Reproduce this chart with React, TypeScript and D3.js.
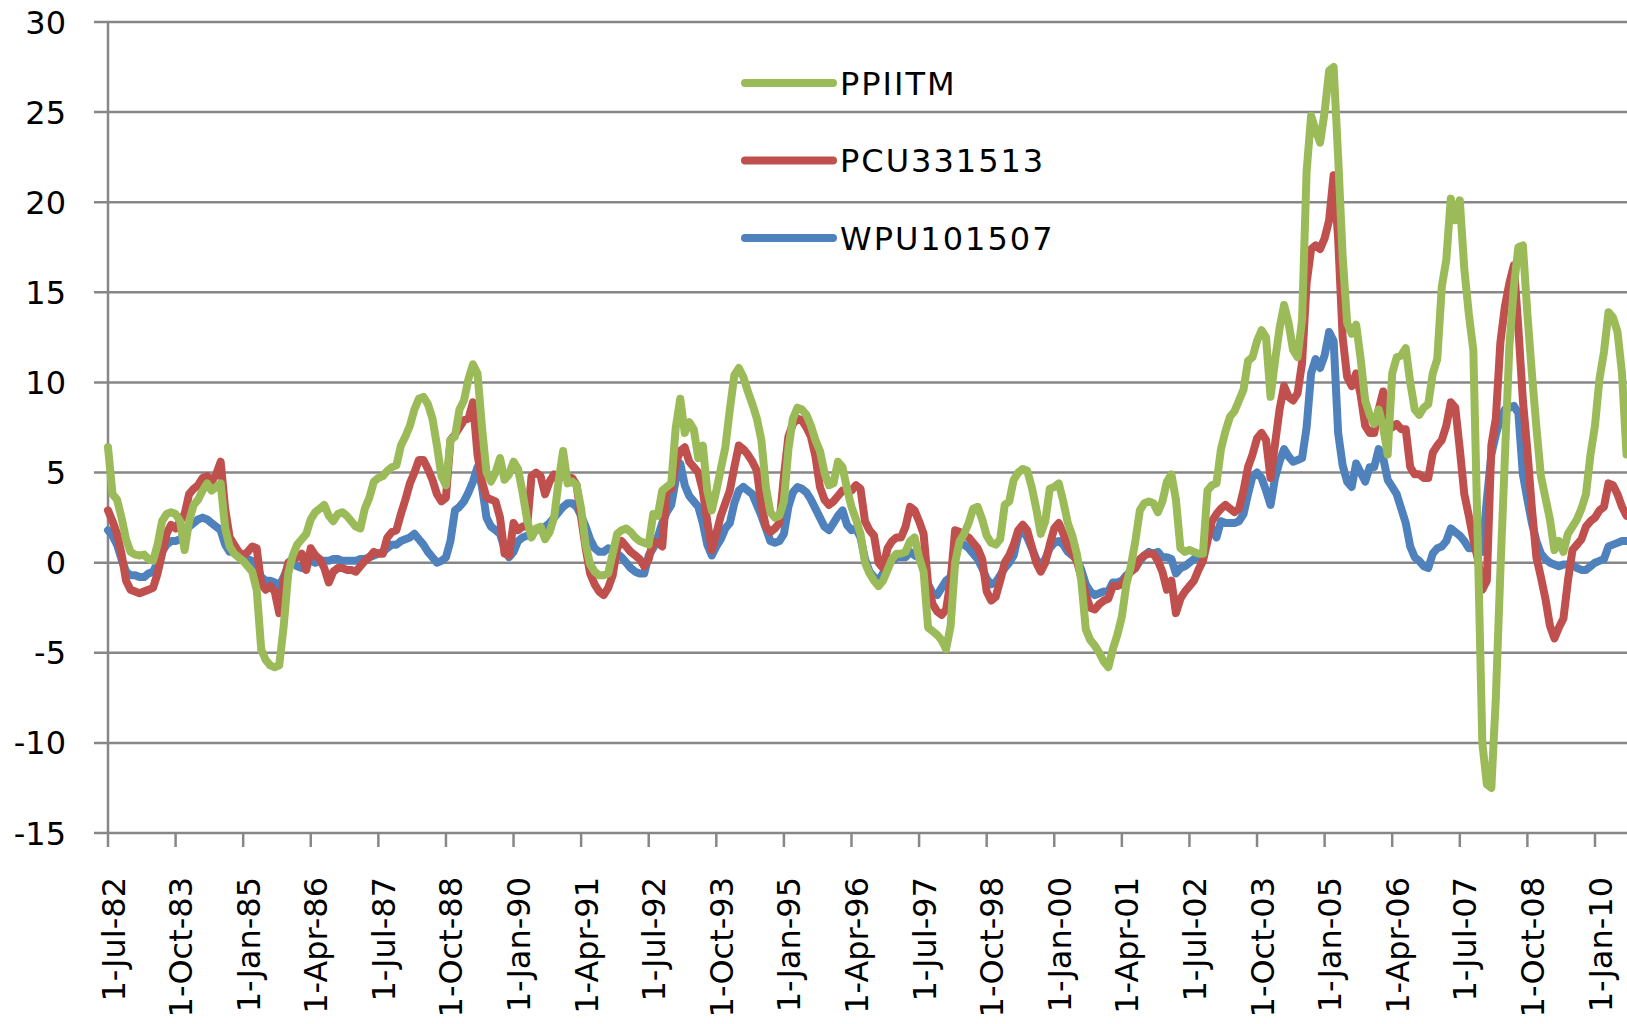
import React, { useEffect, useRef } from "react";
import * as d3 from "d3";

// monthly values starting 1-Jul-82, one row = 15 months (one tick interval)
const ppiitm = [
  6.4, 3.8, 3.5, 2.5, 1.3, 0.6, 0.45, 0.4, 0.45, 0.2, 0.1, 1.0, 2.3, 2.7, 2.8,
  2.7, 2.3, 0.7, 2.3, 3.2, 3.5, 4.0, 4.4, 4.0, 4.2, 4.4, 1.9, 0.9, 0.5, 0.3,
  0.1, -0.2, -0.5, -1.5, -4.8, -5.4, -5.7, -5.8, -5.7, -3.5, -0.6, 0.4, 1.0, 1.3, 1.6,
  2.4, 2.8, 3.0, 3.2, 2.6, 2.3, 2.7, 2.8, 2.6, 2.3, 2.0, 1.9, 3.0, 3.6, 4.5,
  4.7, 4.8, 5.1, 5.3, 5.4, 6.5, 7.0, 7.6, 8.5, 9.1, 9.2, 8.8, 8.0, 6.5, 4.8,
  4.3, 6.8, 7.0, 8.5, 9.0, 10.2, 11.0, 10.5, 7.5, 5.0, 4.5, 5.0, 5.8, 4.6, 4.9,
  5.6, 5.2, 3.9, 2.4, 1.4, 1.9, 2.0, 1.3, 1.7, 2.5, 4.5, 6.2, 4.4, 4.5, 4.3,
  3.0, 1.0, -0.1, -0.5, -0.7, -0.7, -0.6, 0.5, 1.6, 1.8, 1.9, 1.7, 1.4, 1.2, 1.1,
  1.0, 2.7, 2.6, 4.0, 4.2, 4.4, 7.5, 9.1, 7.2, 7.8, 7.4, 5.8, 6.5, 4.0, 2.9,
  4.0, 5.2, 6.4, 8.5, 10.4, 10.8, 10.3, 9.5, 8.8, 8.0, 6.8, 4.2, 2.8, 2.5, 2.6,
  3.4, 6.3, 8.0, 8.6, 8.5, 8.2, 7.6, 6.8, 6.2, 5.0, 4.3, 4.4, 5.6, 5.3, 4.1,
  3.1, 2.4, 1.6, 0.0, -0.6, -1.0, -1.3, -1.0, -0.4, 0.2, 0.5, 0.5, 0.6, 1.2, 1.4,
  0.3, -0.5, -3.6, -3.8, -4.0, -4.3, -4.8, -3.5, 0.0, 1.2, 1.6, 2.2, 3.0, 3.1, 2.4,
  1.5, 1.1, 1.0, 1.3, 3.2, 3.4, 4.6, 5.0, 5.2, 5.1, 4.2, 3.0, 1.6, 2.3, 4.1,
  4.2, 4.4, 3.4, 2.2, 1.5, 0.5, -1.0, -3.7, -4.3, -4.6, -5.0, -5.5, -5.8, -4.8, -4.0,
  -3.0, -1.2, -0.2, 1.2, 2.9, 3.3, 3.4, 3.3, 2.8, 3.4, 4.5, 4.9, 3.5, 0.8, 0.6,
  0.7, 0.6, 0.5, 0.5, 4.0, 4.3, 4.4, 6.3, 7.3, 8.1, 8.4, 9.0, 9.6, 11.2, 11.4,
  12.3, 12.9, 12.5, 9.2, 11.2, 13.0, 14.3, 13.3, 11.8, 11.4, 13.5, 21.7, 24.8, 24.0, 23.3,
  25.0, 27.3, 27.5, 22.5, 17.0, 13.3, 12.7, 13.2, 11.3, 9.0, 8.2, 7.7, 8.5, 7.5, 6.0,
  10.5, 11.4, 11.5, 11.9, 10.0, 8.5, 8.2, 8.6, 8.8, 10.5, 11.3, 15.3, 16.8, 20.2, 19.0,
  20.1, 16.3, 13.8, 11.8, 1.0, -10.0, -12.3, -12.5, -7.5, -0.5, 5.8, 12.0, 15.3, 17.5, 17.6,
  13.8, 10.5, 7.5, 4.8, 3.6, 2.4, 0.7, 1.2, 0.6, 1.6, 2.0, 2.4, 3.0, 3.8, 6.0,
  7.6, 10.2, 11.7, 13.9, 13.6, 12.8, 10.5, 6.0,
];

const pcu331513 = [
  2.9, 2.3, 1.6, 0.5, -1.0, -1.5, -1.6, -1.7, -1.6, -1.5, -1.4, -0.6, 0.5, 1.6, 2.1,
  1.9, 2.3, 2.7, 3.8, 4.1, 4.3, 4.7, 4.8, 4.5, 4.9, 5.6, 3.0, 1.4, 1.0, 0.6,
  0.4, 0.6, 0.9, 0.8, -1.2, -1.5, -1.3, -1.6, -2.8, -1.0, 0.0, 0.2, 0.3, 0.5, -0.4,
  0.8, 0.4, 0.2, -0.3, -1.1, -0.5, -0.3, -0.3, -0.4, -0.4, -0.5, -0.2, 0.1, 0.3, 0.6,
  0.5, 0.5, 1.4, 1.7, 1.8, 2.7, 3.5, 4.4, 5.0, 5.7, 5.7, 5.2, 4.6, 3.8, 3.4,
  3.6, 6.8, 7.1, 7.5, 7.9, 8.0, 8.9, 6.0, 4.5, 3.6, 3.5, 3.4, 2.5, 0.5, 0.4,
  2.2, 1.8, 2.0, 2.0, 4.8, 5.0, 4.8, 3.8, 4.5, 4.9, 4.6, 4.9, 4.7, 4.7, 4.3,
  2.5, 0.8, -0.6, -1.2, -1.6, -1.8, -1.4, -0.7, 0.8, 1.2, 0.9, 0.6, 0.4, 0.2, -0.2,
  0.2, 1.2, 1.1, 0.9, 4.0, 4.1, 5.5, 6.2, 6.4, 5.6, 5.3, 5.0, 4.0, 2.3, 0.7,
  1.6, 2.6, 3.3, 4.0, 5.3, 6.5, 6.3, 6.0, 5.6, 5.1, 3.2, 2.0, 1.7, 1.9, 2.2,
  4.8, 7.0, 7.7, 8.0, 7.9, 7.5, 7.0, 5.9, 4.2, 3.5, 3.2, 3.4, 3.7, 4.0, 4.0,
  4.0, 4.3, 4.1, 2.3, 1.8, 1.5, 0.0, -0.3, 0.8, 1.2, 1.4, 1.4, 2.0, 3.1, 2.9,
  2.3, 1.6, -1.2, -2.3, -2.7, -2.9, -2.6, -1.0, 1.8, 1.7, 1.5, 1.4, 1.1, 0.8, 0.2,
  -1.6, -2.1, -1.9, -1.0, 0.0, 0.4, 1.0, 1.8, 2.1, 1.8, 0.9, 0.0, -0.5, 0.0, 1.0,
  1.9, 2.2, 1.6, 0.9, 0.5, 0.1, -0.8, -1.8, -2.5, -2.6, -2.3, -2.1, -2.0, -1.3, -1.3,
  -1.2, -0.8, -0.5, -0.3, 0.2, 0.4, 0.5, 0.5, 0.1, -0.5, -1.5, -1.0, -2.8, -2.0, -1.6,
  -1.3, -1.0, -0.4, 0.1, 1.2, 2.3, 2.7, 3.0, 3.2, 3.0, 2.8, 3.0, 4.0, 5.3, 6.0,
  6.9, 7.2, 6.8, 4.7, 6.6, 8.5, 9.8, 9.2, 9.0, 9.4, 11.1, 15.5, 17.4, 17.6, 17.4,
  18.0, 19.0, 21.5, 18.0, 12.5, 10.3, 9.8, 10.5, 9.3, 7.6, 7.2, 7.2, 8.5, 9.5, 8.0,
  7.5, 7.7, 7.4, 7.4, 5.3, 4.9, 4.9, 4.7, 4.7, 6.1, 6.5, 6.8, 7.6, 8.9, 8.6,
  6.3, 3.8, 2.6, 1.3, 0.2, -1.5, -1.0, 6.5, 8.0, 12.2, 14.2, 15.5, 16.5, 13.0, 9.0,
  6.2, 3.0, 0.3, -0.8, -2.0, -3.5, -4.2, -3.6, -3.1, -1.0, 0.7, 1.0, 1.3, 2.0, 2.3,
  2.5, 2.9, 3.1, 4.4, 4.3, 3.8, 3.1, 2.6,
];

const wpu101507 = [
  1.8, 1.5, 1.0, 0.2, -0.5, -0.7, -0.7, -0.8, -0.8, -0.6, -0.5, 0.0, 0.6, 1.0, 1.2,
  1.2, 1.3, 1.6, 2.0, 2.2, 2.4, 2.5, 2.4, 2.2, 2.0, 1.8, 1.0, 0.6, 0.6, 0.4,
  0.3, 0.2, 0.1, -0.2, -0.8, -1.0, -1.0, -1.1, -1.3, -0.8, -0.2, 0.0, -0.2, -0.3, 0.0,
  0.1, 0.0, 0.1, 0.1, 0.1, 0.2, 0.2, 0.1, 0.1, 0.1, 0.1, 0.2, 0.2, 0.3, 0.4,
  0.5, 0.6, 0.8, 1.0, 1.0, 1.2, 1.3, 1.4, 1.6, 1.3, 1.0, 0.6, 0.3, 0.0, 0.1,
  0.3, 1.2, 2.9, 3.1, 3.4, 3.9, 4.5, 5.3, 4.2, 2.5, 2.0, 1.8, 1.6, 0.8, 0.3,
  0.6, 1.2, 1.4, 1.5, 1.6, 1.8, 1.9, 2.0, 2.2, 2.5, 2.8, 3.1, 3.3, 3.3, 3.1,
  2.6, 2.0, 1.3, 0.8, 0.6, 0.6, 0.8, 0.7, 0.5, 0.3, 0.0, -0.3, -0.5, -0.6, -0.6,
  0.4, 0.8, 1.4, 2.2, 2.8, 3.2, 4.6, 5.5, 4.3, 3.7, 3.4, 3.1, 2.2, 1.0, 0.4,
  0.9, 1.3, 1.9, 2.2, 3.3, 4.0, 4.2, 4.0, 3.8, 3.2, 2.6, 1.9, 1.2, 1.1, 1.2,
  1.6, 3.1, 3.9, 4.2, 4.1, 3.9, 3.5, 3.0, 2.5, 2.0, 1.8, 2.2, 2.6, 2.9, 2.1,
  1.8, 1.9, 1.4, 0.2, -0.5, -0.8, -1.0, -0.6, -0.1, 0.1, 0.3, 0.3, 0.3, 0.6, 0.4,
  0.3, -0.2, -1.2, -1.7, -1.8, -1.4, -1.0, -0.8, 0.6, 1.0, 1.0, 0.8, 0.5, 0.2, -0.3,
  -0.9, -1.2, -1.1, -0.7, -0.3, 0.0, 0.4, 1.5, 1.8, 1.4, 0.8, 0.2, -0.2, 0.2, 0.8,
  1.1, 1.2, 1.0, 0.6, 0.4, 0.2, -0.4, -1.2, -1.6, -1.8, -1.7, -1.6, -1.6, -1.1, -1.1,
  -1.0, -0.7, -0.5, -0.3, 0.1, 0.4, 0.6, 0.5, 0.6, 0.3, 0.3, 0.2, -0.6, -0.3, -0.2,
  0.0, 0.2, 0.3, 0.4, 1.5, 1.9, 1.4, 2.3, 2.2, 2.2, 2.2, 2.3, 2.7, 3.8, 4.8,
  5.0, 4.7, 4.0, 3.2, 4.7, 5.6, 6.3, 5.9, 5.6, 5.7, 5.8, 7.5, 10.5, 11.3, 10.8,
  11.5, 12.8, 12.3, 7.2, 5.4, 4.5, 4.2, 5.5, 5.0, 4.5, 5.3, 5.3, 6.3, 5.8, 4.6,
  4.2, 3.8, 3.0, 2.2, 0.9, 0.3, 0.1, -0.2, -0.3, 0.5, 0.8, 0.9, 1.2, 1.9, 1.7,
  1.5, 1.2, 0.8, 0.8, 0.8, 0.6, 3.5, 6.0, 7.1, 8.0, 8.5, 8.6, 8.7, 8.3, 4.9,
  3.5, 2.2, 1.2, 0.5, 0.2, 0.0, -0.1, -0.2, -0.1, -0.1, -0.1, -0.3, -0.4, -0.4, -0.2,
  0.0, 0.1, 0.2, 0.9, 1.0, 1.1, 1.2, 1.2,
];

// one label every 15 months
const tickLabels = [
  "1-Jul-82", "1-Oct-83", "1-Jan-85", "1-Apr-86", "1-Jul-87", "1-Oct-88",
  "1-Jan-90", "1-Apr-91", "1-Jul-92", "1-Oct-93", "1-Jan-95", "1-Apr-96",
  "1-Jul-97", "1-Oct-98", "1-Jan-00", "1-Apr-01", "1-Jul-02", "1-Oct-03",
  "1-Jan-05", "1-Apr-06", "1-Jul-07", "1-Oct-08", "1-Jan-10",
];
const tickStep = 15;

const yTicks = [-15, -10, -5, 0, 5, 10, 15, 20, 25, 30];

const seriesNames = ["PPIITM", "PCU331513", "WPU101507"];
const seriesColors = ["#9bbb59", "#c0504d", "#4f81bd"];
const seriesValues = [ppiitm, pcu331513, wpu101507];

const App = () => {
  const ref = useRef(null);

  useEffect(() => {
    const width = 1627;
    const height = 1024;
    const left = 108;
    const font = "'DejaVu Sans', Verdana, sans-serif";

    const svg = d3.select(ref.current);
    svg.selectAll("*").remove();
    svg.attr("width", width).attr("height", height);

    const x = d3.scaleLinear().domain([0, 337]).range([left, left + 4.506 * 337]);
    const y = d3.scaleLinear().domain([-15, 30]).range([833, 22]);

    // gridlines + y labels
    const grid = svg.append("g");
    grid
      .selectAll("line")
      .data(yTicks)
      .enter()
      .append("line")
      .attr("x1", left - 14)
      .attr("x2", width)
      .attr("y1", (d) => y(d))
      .attr("y2", (d) => y(d))
      .attr("stroke", "#878787")
      .attr("stroke-width", 2.5);

    grid
      .selectAll("text")
      .data(yTicks)
      .enter()
      .append("text")
      .attr("x", 66)
      .attr("y", (d) => y(d))
      .attr("dy", "0.36em")
      .attr("text-anchor", "end")
      .attr("font-family", font)
      .attr("font-size", 32)
      .attr("fill", "#000")
      .text((d) => d);

    // y axis line
    svg
      .append("line")
      .attr("x1", left)
      .attr("x2", left)
      .attr("y1", y(30))
      .attr("y2", y(-15))
      .attr("stroke", "#878787")
      .attr("stroke-width", 2.5);

    // x ticks + rotated labels
    const xt = svg
      .append("g")
      .selectAll("g")
      .data(tickLabels)
      .enter()
      .append("g");

    xt.append("line")
      .attr("x1", (d, i) => x(i * tickStep))
      .attr("x2", (d, i) => x(i * tickStep))
      .attr("y1", y(-15))
      .attr("y2", y(-15) + 14)
      .attr("stroke", "#878787")
      .attr("stroke-width", 2.5);

    xt.append("text")
      .attr("transform", (d, i) => `translate(${x(i * tickStep) + 5},${877}) rotate(-90)`)
      .attr("dy", "0.36em")
      .attr("text-anchor", "end")
      .attr("font-family", font)
      .attr("font-size", 32)
      .attr("fill", "#000")
      .text((d) => d);

    // series, blue first so green ends on top
    const line = d3
      .line()
      .x((d, i) => x(i))
      .y((d) => y(d))
      .curve(d3.curveLinear);

    [2, 1, 0].forEach((k) => {
      svg
        .append("path")
        .datum(seriesValues[k])
        .attr("d", line)
        .attr("fill", "none")
        .attr("stroke", seriesColors[k])
        .attr("stroke-width", 8)
        .attr("stroke-linejoin", "round")
        .attr("stroke-linecap", "round");
    });

    // legend
    const legend = svg
      .append("g")
      .selectAll("g")
      .data(seriesNames)
      .enter()
      .append("g")
      .attr("transform", (d, i) => `translate(745,${83 + i * 77.5})`);

    legend
      .append("line")
      .attr("x1", 0)
      .attr("x2", 88)
      .attr("stroke", (d, i) => seriesColors[i])
      .attr("stroke-width", 8)
      .attr("stroke-linecap", "round");

    legend
      .append("text")
      .attr("x", 95)
      .attr("dy", "0.36em")
      .attr("font-family", font)
      .attr("font-size", 32)
      .attr("letter-spacing", 2)
      .attr("fill", "#000")
      .text((d) => d);
  }, []);

  return (
    <svg
      ref={ref}
      style={{ position: "absolute", left: 0, top: 0, display: "block", background: "#fff" }}
    />
  );
};

export default App;
